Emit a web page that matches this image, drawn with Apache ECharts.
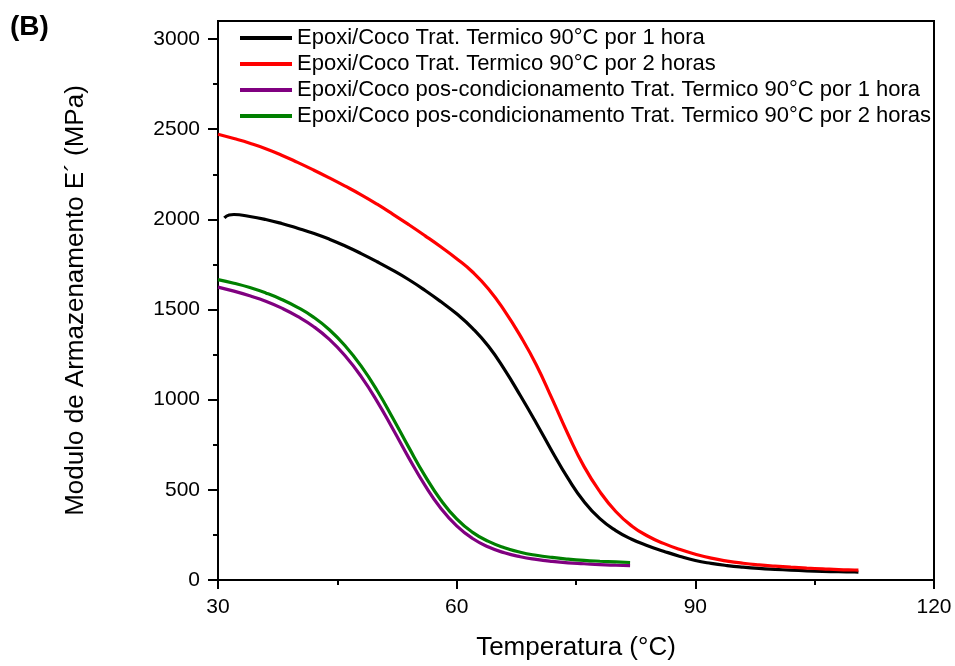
<!DOCTYPE html>
<html>
<head>
<meta charset="utf-8">
<script src="https://cdn.jsdelivr.net/npm/echarts@6/dist/echarts.min.js"></script>
<style>
html,body{margin:0;padding:0;background:#fff;}
#chart{width:955px;height:666px;}
</style>
</head>
<body>
<div id="chart"></div>
<script>
// ---- data ----
var seriesNames = [
  'Epoxi/Coco Trat. Termico 90°C por 1 hora',
  'Epoxi/Coco Trat. Termico 90°C por 2 horas',
  'Epoxi/Coco pos-condicionamento Trat. Termico 90°C por 1 hora',
  'Epoxi/Coco pos-condicionamento Trat. Termico 90°C por 2 horas'
];
var t1h = [30.8, 31.4, 32, 34, 36, 38, 40, 42, 44, 46, 48, 50, 52, 54, 56, 58, 60, 62, 64, 66, 68, 70, 72, 74, 76, 78, 80, 82, 84, 86, 88, 90, 92, 94, 96, 98, 100, 102, 104, 106, 108, 110, 110.5];
var e1h = [2008, 2024, 2027, 2016, 1999, 1977, 1951, 1923, 1890, 1852, 1810, 1765, 1717, 1665, 1607, 1544, 1476, 1396, 1296, 1168, 1023, 871, 713, 563, 435, 340, 274, 226, 190, 160, 132, 108, 92, 80, 71, 64, 59, 55, 51, 48, 46, 44.5, 44];

var t2h = [30, 32, 34, 36, 38, 40, 42, 44, 46, 48, 50, 52, 54, 56, 58, 60, 62, 64, 66, 68, 70, 72, 74, 76, 78, 80, 82, 84, 86, 88, 90, 92, 94, 96, 98, 100, 102, 104, 106, 108, 110, 110.5];
var e2h = [2472, 2448, 2422, 2392, 2356, 2316, 2274, 2230, 2184, 2136, 2084, 2028, 1970, 1910, 1848, 1782, 1708, 1614, 1494, 1354, 1194, 1004, 808, 630, 490, 380, 300, 244, 203, 170, 143, 121, 105, 93, 84, 77, 71, 66, 62, 58, 55.5, 55];

var tPos1h = [30, 32, 34, 36, 38, 40, 42, 44, 46, 48, 50, 52, 54, 56, 58, 60, 62, 64, 66, 68, 70, 72, 74, 76, 78, 80, 81.8];
var ePos1h = [1624, 1602, 1576, 1546, 1508, 1462, 1406, 1334, 1242, 1128, 991, 836, 676, 526, 398, 300, 230, 183, 151, 129, 114, 103, 95, 90, 85, 82, 80];

var tPos2h = [30, 32, 34, 36, 38, 40, 42, 44, 46, 48, 50, 52, 54, 56, 58, 60, 62, 64, 66, 68, 70, 72, 74, 76, 78, 80, 81.8];
var ePos2h = [1666, 1646, 1622, 1592, 1556, 1512, 1458, 1388, 1298, 1186, 1051, 896, 734, 579, 444, 339, 264, 214, 179, 154, 137, 125, 116, 109, 104, 100, 97];

var xTicks = [30, 60, 90, 120];
var yTicks = [0, 500, 1000, 1500, 2000, 2500, 3000];
var yMinorTicks = [250, 750, 1250, 1750, 2250, 2750];

var colors = ['#000000', '#ff0000', '#800080', '#008000'];

function pairs(xs, ys) {
  var out = [];
  for (var i = 0; i < xs.length; i++) out.push([xs[i], ys[i]]);
  return out;
}
var allData = [pairs(t1h, e1h), pairs(t2h, e2h), pairs(tPos1h, ePos1h), pairs(tPos2h, ePos2h)];

var FONT = '"Liberation Sans", Arial, sans-serif';
function plain(v) { return String(v); }

var chart = echarts.init(document.getElementById('chart'), null, {renderer: 'canvas'});
var option = {
  animation: false,
  backgroundColor: '#fff',
  color: colors,
  textStyle: {fontFamily: FONT, color: '#000'},
  grid: {
    left: 218, right: 21, top: 21, bottom: 82,
    show: true, borderColor: '#000', borderWidth: 2, backgroundColor: 'transparent'
  },
  graphic: [{
    type: 'text', left: 10, top: 13,
    style: {text: '(B)', font: 'bold 28px ' + FONT, fill: '#000'}
  }],
  legend: {
    orient: 'vertical',
    left: 240, top: 27,
    padding: 0,
    itemGap: 4,
    itemWidth: 52,
    itemHeight: 4,
    icon: 'rect',
    textStyle: {fontSize: 22, fontFamily: FONT, color: '#000'},
    data: seriesNames
  },
  xAxis: {
    type: 'value',
    min: 30, max: 120, interval: 30,
    name: 'Temperatura (°C)',
    nameLocation: 'middle',
    nameGap: 55,
    nameTextStyle: {fontSize: 26, fontFamily: FONT, color: '#000'},
    axisLine: {show: true, lineStyle: {color: '#000', width: 2}},
    axisTick: {show: true, inside: false, length: 9, lineStyle: {color: '#000', width: 2}},
    minorTick: {show: true, splitNumber: 2, length: 5, lineStyle: {color: '#000', width: 2}},
    axisLabel: {fontSize: 21, fontFamily: FONT, color: '#000', margin: 17,
      customValues: xTicks, formatter: plain},
    splitLine: {show: false},
    minorSplitLine: {show: false}
  },
  yAxis: [{
    type: 'value',
    min: 0, max: 3100,
    name: 'Modulo de Armazenamento E´ (MPa)',
    nameLocation: 'middle',
    nameGap: 129,
    nameRotate: 90,
    nameTextStyle: {fontSize: 26, fontFamily: FONT, color: '#000'},
    axisLine: {show: true, lineStyle: {color: '#000', width: 2}},
    axisTick: {show: true, inside: false, length: 10, lineStyle: {color: '#000', width: 2},
      customValues: yTicks},
    axisLabel: {fontSize: 21, fontFamily: FONT, color: '#000', margin: 18,
      customValues: yTicks, formatter: plain},
    splitLine: {show: false}
  }, {
    type: 'value',
    position: 'left',
    min: 0, max: 3100,
    axisLine: {show: false},
    axisTick: {show: true, inside: false, length: 5, lineStyle: {color: '#000', width: 2},
      customValues: yMinorTicks},
    axisLabel: {show: false, customValues: yMinorTicks},
    splitLine: {show: false}
  }],
  series: seriesNames.map(function (name, i) {
    return {
      name: name,
      type: 'line',
      yAxisIndex: 0,
      data: allData[i],
      smooth: 0.5,
      showSymbol: false,
      symbol: 'none',
      lineStyle: {color: colors[i], width: 3.2},
      itemStyle: {color: colors[i]},
      z: 2 + i
    };
  })
};
chart.setOption(option);
</script>
</body>
</html>
